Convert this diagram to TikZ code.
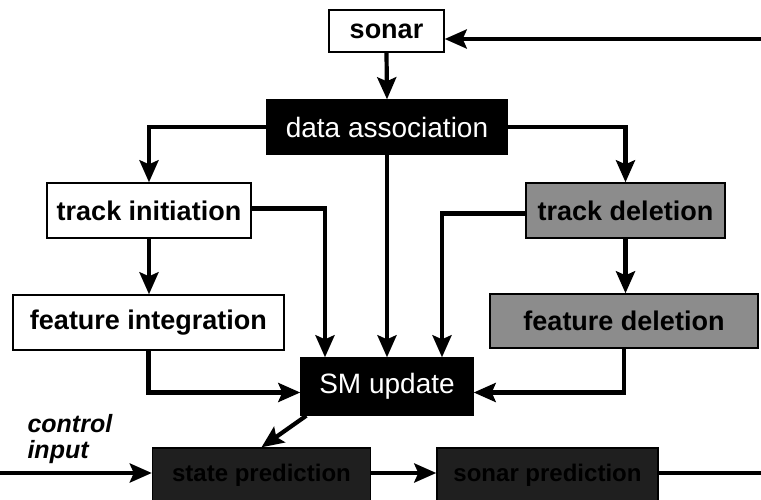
\documentclass[tikz,border=0pt]{standalone}
\usepackage{fontspec}
\setmainfont{Liberation Sans}
\usepackage{xcolor}
\usetikzlibrary{arrows.meta}

\tikzset{
  blk/.style={draw=black,line width=1.4pt,minimum height=55pt,inner sep=0pt,
    font=\fontsize{27}{29}\selectfont\bfseries},
  plainbox/.style={blk,fill=white},
  greybox/.style={blk,fill=black!45},
  darkbox/.style={blk,fill=black!88,text=black,
    font=\fontsize{24}{26}\selectfont\bfseries},
  blackbox/.style={blk,fill=black,text=white,
    font=\fontsize{28}{30}\selectfont},
  arr/.style={line width=4.2pt,-{Stealth[length=22pt,width=19pt,inset=4pt]}},
  ln/.style={line width=4.2pt}
}

\begin{document}
\begin{tikzpicture}[x=1pt,y=-1pt]
  \useasboundingbox (0,0) rectangle (761,500);
  % boxes
  \node[plainbox,minimum width=115pt,minimum height=42pt] (sonar) at (386.5,31) {sonar};
  \node[blackbox,minimum width=240pt,minimum height=54pt] (assoc) at (387,127) {data association};
  \node[plainbox,minimum width=204pt] (init) at (149,210.5) {track initiation};
  \node[plainbox,minimum width=271pt] (fint) at (148.5,322.5) {feature integration};
  \node[greybox,minimum width=199pt] (tdel) at (625.5,210.5) {track deletion};
  \node[greybox,minimum width=268pt,minimum height=54pt] (fdel) at (624,321) {feature deletion};
  \node[blackbox,minimum width=172pt,minimum height=57pt] (smup) at (387,386.5) {SM update};
  \node[darkbox,minimum width=218pt,minimum height=54pt] (spred) at (261.5,475) {state prediction};
  \node[darkbox,minimum width=221pt,minimum height=54pt] (snpred) at (547.5,475) {sonar prediction};
  \node[font=\fontsize{25}{27}\selectfont\bfseries\itshape,align=left,anchor=west] (ctl) at (24,439) {control\\[-1pt]input};
  % free ends
  \coordinate (fbin) at (761,39);
  \coordinate (fbout) at (761,473);
  \coordinate (ctlin) at (0,473);
  % connectors
  \draw[arr] (fbin) -- (sonar.east |- fbin);
  \draw[arr] (sonar.south) -- (assoc.north);
  \draw[arr] (assoc.west) -| (init.north);
  \draw[arr] (assoc.east) -| (tdel.north);
  \draw[arr] (assoc.south) -- (smup.north);
  \draw[arr] ([yshift=2pt]init.east) -| ([xshift=-62pt]smup.north);
  \draw[arr] ([yshift=-3pt]tdel.west) -| ([xshift=55pt]smup.north);
  \draw[arr] (init.south) -- (init.south |- fint.north);
  \draw[arr] (tdel.south) -- (tdel.south |- fdel.north);
  \draw[arr] (fint.south) |- ([yshift=-6pt]smup.west);
  \draw[arr] (fdel.south) |- ([yshift=-6pt]smup.east);
  \draw[arr] ([xshift=6pt]smup.south west) -- (spred.north);
  \draw[arr] (ctlin) -- (spred.west |- ctlin);
  \draw[arr] (spred.east |- fbout) -- (snpred.west |- fbout);
  \draw[ln] (snpred.east |- fbout) -- (fbout);
\end{tikzpicture}
\end{document}
